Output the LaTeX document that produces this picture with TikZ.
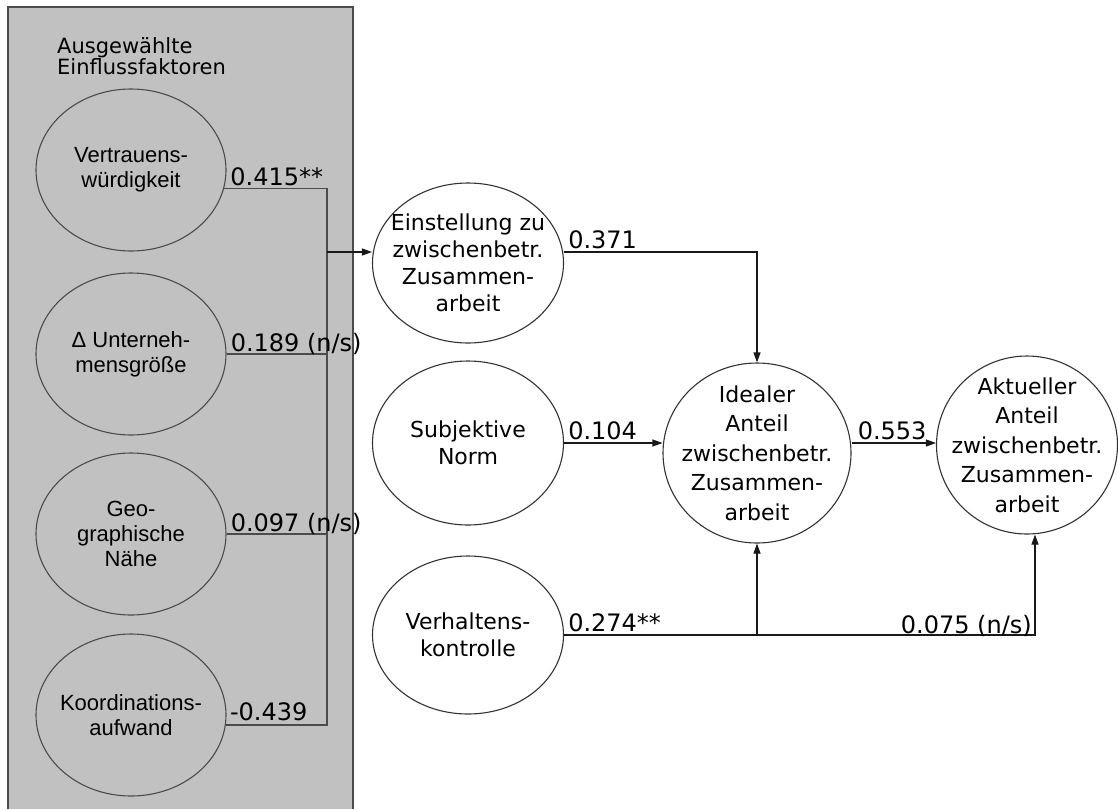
\documentclass[tikz,border=0pt]{standalone}
\usepackage{fontspec}
\usetikzlibrary{shapes.geometric,arrows.meta}
\newfontfamily\vfont{DejaVu Sans}
\newfontfamily\afont{Liberation Sans}
\definecolor{panelgray}{RGB}{193,193,193}
\definecolor{rimgray}{RGB}{75,75,75}
\tikzset{
  ftext/.style={align=center, inner sep=0pt, font=\afont\fontsize{22}{25}\selectfont},
  ctext/.style={align=center, inner sep=0pt, font=\vfont\fontsize{22}{27}\selectfont},
  otext/.style={align=center, inner sep=0pt, font=\vfont\fontsize{22}{29.5}\selectfont},
  factor/.style={ellipse, draw=rimgray, fill=panelgray, line width=1.1pt,
    minimum width=190pt, minimum height=162pt, inner sep=0pt,
    label={[ftext]center:#1}},
  cshape/.style={ellipse, draw=black!80, fill=white, line width=1.1pt,
    minimum width=191pt, inner sep=0pt},
  construct/.style={cshape, label={[ctext]center:#1}},
  outcome/.style={cshape, label={[otext]center:#1}},
  num/.style={inner sep=0pt, font=\vfont\fontsize{24}{24}\selectfont},
  link/.style={draw=rimgray, line width=1.1pt},
  arrow/.style={draw=black!90, line width=1.1pt, -{Triangle[length=10pt,width=7pt]}}
}
\begin{document}
\begin{tikzpicture}[x=1pt,y=-1pt]
  \useasboundingbox[fill=white] (0,0) rectangle (1118,809);
  % Draw the panel
  \fill[panelgray] (8,7) rectangle (353,809);
  \draw[rimgray, line width=1.1pt] (8,809) -- (8,7) -- (353,7) -- (353,809);
  \node[anchor=north west, align=left, inner sep=0pt,
    font=\vfont\fontsize{21}{20}\selectfont] (head) at (57,37) {Ausgewählte\\Einflussfaktoren};
  % Draw the factors
  \node[factor={Vertrauens-\\würdigkeit}] (vertr) at (131,170) {};
  \node[factor={Δ Unterneh-\\mensgröße}] (groesse) at (131,354) {};
  \node[factor={Geo-\\graphische\\Nähe}] (naehe) at (131,534) {};
  \node[factor={Koordinations-\\aufwand}] (koord) at (131,715) {};
  % Draw the constructs
  \node[construct={Einstellung zu\\zwischenbetr.\\Zusammen-\\arbeit}, minimum height=160pt] (einst) at (468,263) {};
  \node[construct={Subjektive\\Norm}, minimum height=164pt] (subj) at (468,443) {};
  \node[construct={Verhaltens-\\kontrolle}, minimum height=158pt] (verh) at (468,635) {};
  \node[outcome={Idealer\\Anteil\\zwischenbetr.\\Zusammen-\\arbeit}, minimum width=188pt, minimum height=180pt] (ideal) at (757,453) {};
  \node[outcome={Aktueller\\Anteil\\zwischenbetr.\\Zusammen-\\arbeit}, minimum width=181pt, minimum height=178pt] (aktuell) at (1027,445) {};
  % Draw the paths
  \coordinate (junc) at (327,252);
  \draw[link] (vertr.-11.6) -| (junc);
  \draw[link] (groesse.east) -| (junc);
  \draw[link] (naehe.east) -| (junc);
  \draw[link] (koord.-6) -| (junc);
  \draw[arrow] (junc) -- (junc -| einst.west);
  \draw[arrow] ([yshift=11pt]einst.east) -| (ideal.north);
  \draw[arrow] (subj.east) -- (subj.east -| ideal.west);
  \draw[arrow] (subj.east -| ideal.east) -- (subj.east -| aktuell.west);
  \coordinate (kbend) at (1035,635);
  \draw[arrow] (verh.east) -- (kbend) -- (kbend |- aktuell.south);
  \draw[arrow] (verh.east -| ideal.south) -- (ideal.south);
  % Draw the weights
  \node[num, anchor=base west] (w1) at ([xshift=6pt,yshift=3pt]vertr.-11.6) {0.415**};
  \node[num, anchor=base west] (w2) at ([xshift=4pt,yshift=3pt]groesse.east) {0.189 (n/s)};
  \node[num, anchor=base west] (w3) at ([xshift=4pt,yshift=3pt]naehe.east) {0.097 (n/s)};
  \node[num, anchor=base west] (w4) at ([xshift=4pt,yshift=4pt]koord.-6) {-0.439};
  \node[num, anchor=base west] (w5) at ([xshift=4pt,yshift=15pt]einst.east) {0.371};
  \node[num, anchor=base west] (w6) at ([xshift=4pt,yshift=4pt]subj.east) {0.104};
  \node[num, anchor=base west] (w7) at ([xshift=6pt,yshift=4pt]subj.east -| ideal.east) {0.553};
  \node[num, anchor=base west] (w8) at ([xshift=4pt,yshift=4pt]verh.east) {0.274**};
  \node[num, anchor=base east] (w9) at ([xshift=-3pt,yshift=2pt]kbend) {0.075 (n/s)};
\end{tikzpicture}
\end{document}
